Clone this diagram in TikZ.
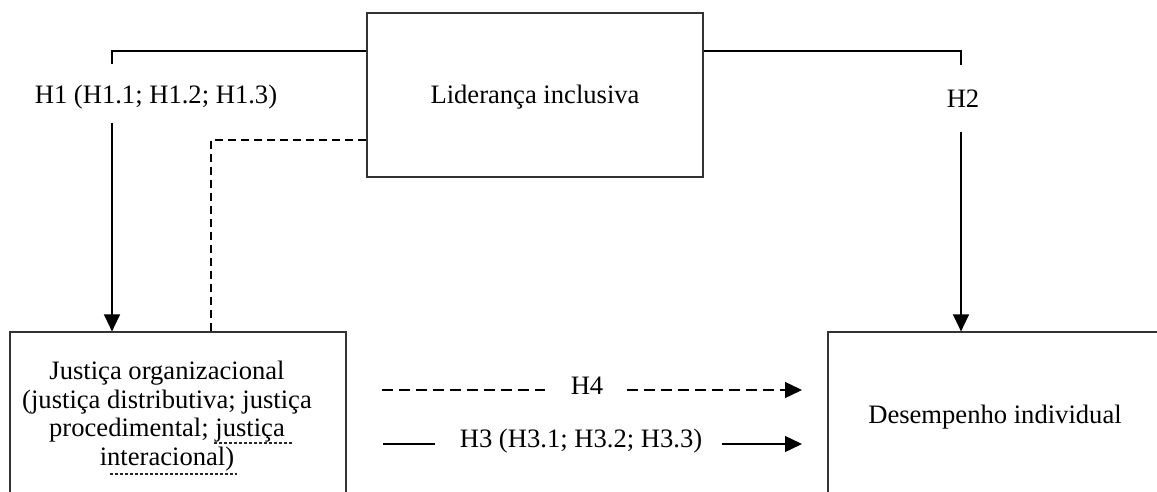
\documentclass[tikz,border=0pt]{standalone}
\usepackage{fontspec}
\setmainfont{Liberation Serif}
\usetikzlibrary{arrows.meta}
\begin{document}
\begin{tikzpicture}[x=0.5pt,y=-0.5pt,
  box/.style={draw=black!80,line width=0.6pt,rectangle,inner sep=0pt},
  lbl/.style={inner sep=1pt,font=\fontsize{13.3}{14.25}\selectfont},
  conn/.style={line width=0.7pt,draw=black},
  arr/.style={conn,-{Triangle[length=8.5pt,width=8pt]}},
  dsh/.style={dash pattern=on 5.5pt off 3pt},
  dshv/.style={dash pattern=on 4pt off 2.5pt},
  uline/.style={line width=0.6pt,dash pattern=on 1.5pt off 1pt}]
\useasboundingbox (0,0) rectangle (1157,492);
% boxes
\node[box,minimum width=168pt,minimum height=82pt] (lid) at (535,95) {};
\node[lbl] (lidtxt) at (535,97) {Liderança inclusiva};
\node[box,minimum width=168pt,minimum height=84pt] (jo) at (178,416) {};
\node[lbl,align=center] (jotxt) at (167,416) {Justiça organizacional\\(justiça distributiva; justiça\\procedimental; justiça\\interacional)};
\node[box,minimum width=167pt,minimum height=84pt] (di) at (995,416) {};
\node[lbl] (ditxt) at (995,417) {Desempenho individual};
% coordinates
\coordinate (t1) at (112,51);
\coordinate (t1e) at (112,64);
\coordinate (a1s) at (112,123);
\coordinate (t2) at (961,51);
\coordinate (t2e) at (961,65);
\coordinate (a2s) at (961,132);
\coordinate (d1) at (211,140);
% labels
\node[lbl] (h1) at (156,97) {H1 (H1.1; H1.2; H1.3)};
\node[lbl] (h2) at (963,99) {H2};
\node[lbl] (h4) at (587,386) {H4};
\node[lbl] (h3) at (581,441) {H3 (H3.1; H3.2; H3.3)};
% H1
\draw[conn] (lid.west |- t1) -- (t1) -- (t1e);
\draw[arr] (a1s) -- (a1s |- jo.north);
% H2
\draw[conn] (lid.east |- t2) -- (t2) -- (t2e);
\draw[arr] (a2s) -- (a2s |- di.north);
% dashed link
\draw[conn,dshv] (lid.west |- d1) -- (d1) -- (d1 |- jo.north);
% H4
\coordinate (h4a) at (382,390);
\coordinate (h4b) at (545,390);
\coordinate (h4c) at (627,390);
\coordinate (h4d) at (802,390);
\draw[conn,dsh] (h4a) -- (h4b);
\draw[arr,dsh] (h4c) -- (h4d);
% H3
\coordinate (h3a) at (383,444);
\coordinate (h3b) at (435,444);
\coordinate (h3c) at (722,444);
\coordinate (h3d) at (802,444);
\draw[conn] (h3a) -- (h3b);
\draw[arr] (h3c) -- (h3d);
% grammar underlines
\draw[uline,black!85] (214,443) -- (293,443);
\draw[uline,black!85] (110,474) -- (237,474);
\end{tikzpicture}
\end{document}
